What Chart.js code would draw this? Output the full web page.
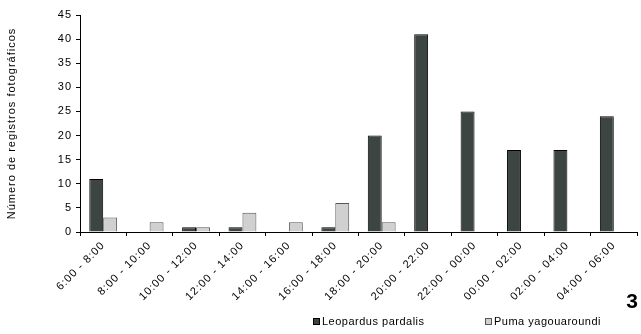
<!DOCTYPE html>
<html lang="es">
<head>
  <meta charset="utf-8">
  <title>Registros fotográficos por hora</title>
  <script src="https://cdn.jsdelivr.net/npm/chart.js@4.4.0/dist/chart.umd.min.js"></script>
  <style>
    html, body { margin: 0; padding: 0; background: #fff; }
    .chart-box { position: relative; width: 641px; height: 334px; }
  </style>
</head>
<body>
  <div class="chart-box">
    <canvas id="registrosChart" width="641" height="334"></canvas>
  </div>
  <script>
    var horarios = ['6:00 - 8:00', '8:00 - 10:00', '10:00 - 12:00', '12:00 - 14:00',
      '14:00 - 16:00', '16:00 - 18:00', '18:00 - 20:00', '20:00 - 22:00',
      '22:00 - 00:00', '00:00 - 02:00', '02:00 - 04:00', '04:00 - 06:00'];
    var leopardus = [11, 0, 1, 1, 0, 1, 20, 41, 25, 17, 17, 24];
    var puma = [3, 2, 1, 4, 2, 6, 2, 0, 0, 0, 0, 0];
    var yTicks = [0, 5, 10, 15, 20, 25, 30, 35, 40, 45];
    var panelLabel = '3';

    var fontFamily = '"Liberation Sans", Arial, sans-serif';

    // the original text is set wide (old Excel export), so space the letters out a bit
    var spacingPlugin = {
      id: 'spacing',
      beforeLayout: function(chart) { chart.ctx.letterSpacing = '1px'; },
      beforeDraw: function(chart) { chart.ctx.letterSpacing = '1px'; }
    };

    // legend + panel number drawn by hand, the stock legend can't be offset like the original
    var extrasPlugin = {
      id: 'extras',
      afterDraw: function(chart) {
        var ctx = chart.ctx;
        ctx.save();
        ctx.letterSpacing = '0.5px';
        ctx.font = '11px ' + fontFamily;
        ctx.textBaseline = 'middle';
        ctx.textAlign = 'left';
        var items = [[313, 0], [485, 1]];
        items.forEach(function(it) {
          var ds = chart.data.datasets[it[1]];
          ctx.fillStyle = ds.backgroundColor;
          ctx.fillRect(it[0], 318, 7, 7);
          ctx.strokeStyle = ds.borderColor;
          ctx.lineWidth = 1;
          ctx.strokeRect(it[0] + 0.5, 318.5, 6, 6);
          ctx.fillStyle = '#000';
          ctx.fillText(ds.label, it[0] + 9, 322);
        });
        ctx.letterSpacing = '0px';
        ctx.font = 'bold 21px ' + fontFamily;
        ctx.textAlign = 'center';
        ctx.fillText(panelLabel, 632, 302);
        ctx.restore();
      }
    };

    new Chart(document.getElementById('registrosChart').getContext('2d'), {
      type: 'bar',
      data: {
        labels: horarios,
        datasets: [
          {
            label: 'Leopardus pardalis',
            data: leopardus,
            backgroundColor: '#3d4543',
            borderColor: '#000000',
            borderWidth: 1,
            categoryPercentage: 0.6,
            barPercentage: 1.0
          },
          {
            label: 'Puma yagouaroundi',
            data: puma,
            backgroundColor: '#d0d0d0',
            borderColor: '#555555',
            borderWidth: 1,
            categoryPercentage: 0.6,
            barPercentage: 1.0
          }
        ]
      },
      options: {
        responsive: false,
        animation: false,
        layout: { padding: { top: 15, right: 4, bottom: 0, left: 0 } },
        plugins: {
          legend: { display: false },
          tooltip: { enabled: false }
        },
        scales: {
          x: {
            grid: { display: true, drawOnChartArea: false, drawTicks: true, tickLength: 4, color: '#000', offset: true },
            border: { display: true, color: '#000', width: 1 },
            ticks: {
              autoSkip: false, maxRotation: 45, minRotation: 45, padding: 3,
              color: '#000', font: { family: fontFamily, size: 11 }
            },
            afterFit: function(scale) { scale.height = 102; }
          },
          y: {
            min: 0, max: 45,
            afterBuildTicks: function(scale) {
              scale.ticks = yTicks.map(function(v) { return { value: v }; });
            },
            grid: { display: true, drawOnChartArea: false, drawTicks: true, tickLength: 4, color: '#000' },
            border: { display: true, color: '#000', width: 1 },
            ticks: { padding: 4, color: '#000', font: { family: fontFamily, size: 11 } },
            title: {
              display: true,
              text: 'Número de registros fotográficos',
              color: '#000',
              font: { family: fontFamily, size: 11 },
              padding: { top: 5, bottom: 0 }
            },
            afterFit: function(scale) { scale.width = 80; }
          }
        }
      },
      plugins: [spacingPlugin, extrasPlugin]
    });
  </script>
</body>
</html>
